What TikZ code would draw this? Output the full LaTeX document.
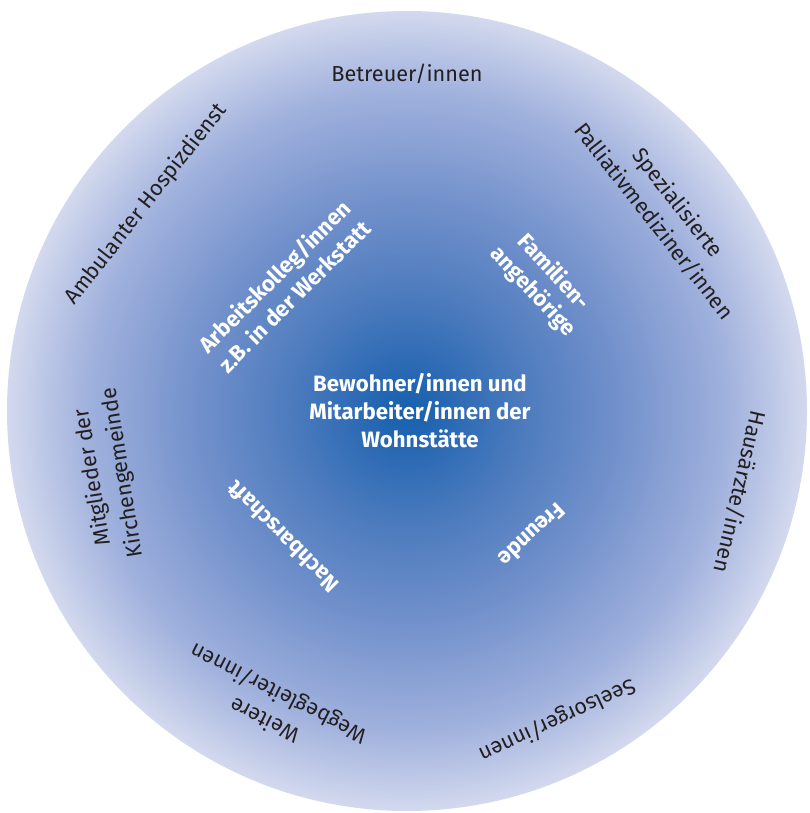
\documentclass[tikz,border=0pt]{standalone}
\usepackage{fontspec}
\setmainfont{Fira Sans}
\definecolor{disc0}{RGB}{22,96,174}
\definecolor{disc1}{RGB}{40,104,179}
\definecolor{disc2}{RGB}{78,124,190}
\definecolor{disc3}{RGB}{116,146,204}
\definecolor{disc4}{RGB}{160,177,221}
\definecolor{disc5}{RGB}{211,217,238}
\definecolor{labelgray}{RGB}{35,31,32}
% radial fade: 25bp is the rim of the disc
\pgfdeclareradialshading{discshade}{\pgfpoint{0bp}{0bp}}{%
  color(0bp)=(disc0); color(2.5bp)=(disc1); color(7.5bp)=(disc2);
  color(13.5bp)=(disc3); color(20bp)=(disc4); color(25bp)=(disc5);
  color(50bp)=(disc5)}
\begin{document}
\begin{tikzpicture}[x=1pt,y=-1pt,
  outerlabel/.style={font=\fontsize{21.7}{30}\selectfont, text=labelgray,
    align=center, inner sep=0pt},
  innerlabel/.style={font=\fontsize{22.2}{28}\selectfont\bfseries, text=white,
    align=center, inner sep=0pt}]
\useasboundingbox (0,0) rectangle (809,813);
\shade[shading=discshade] (407,411) circle[radius=400];

% outer ring
\node[outerlabel] (betreuer) at (407,74) {Betreuer/innen};
\node[outerlabel, rotate=52] (hospiz) at (146,204) {Ambulanter Hospizdienst};
\node[outerlabel, rotate=-52] (palliativ) at (666,212) {Spezialisierte\\Palliativmediziner/innen};
\node[outerlabel, rotate=-103] (hausarzt) at (740,492) {Hausärzte/innen};
\node[outerlabel, rotate=205] (seelsorger) at (557,720) {Seelsorger/innen};
\node[outerlabel, rotate=153] (wegbegleiter) at (272,706) {Weitere\\Wegbegleiter/innen};
\node[outerlabel, rotate=99] (kirche) at (108,475) {Mitglieder der\\Kirchengemeinde};

% inner ring
\node[innerlabel, rotate=45] (kollegen) at (284,286) {Arbeitskolleg/innen\\z.B. in der Werkstatt};
\node[innerlabel, rotate=-47] (familie) at (543,282) {Familien-\\angehörige};
\node[innerlabel, rotate=135] (nachbarn) at (283,537) {Nachbarschaft};
\node[innerlabel, rotate=-137] (freunde) at (532,535) {Freunde};

% centre
\node[innerlabel] (mitte) at (420,411) {Bewohner/innen und\\Mitarbeiter/innen der\\Wohnstätte};
\end{tikzpicture}
\end{document}
